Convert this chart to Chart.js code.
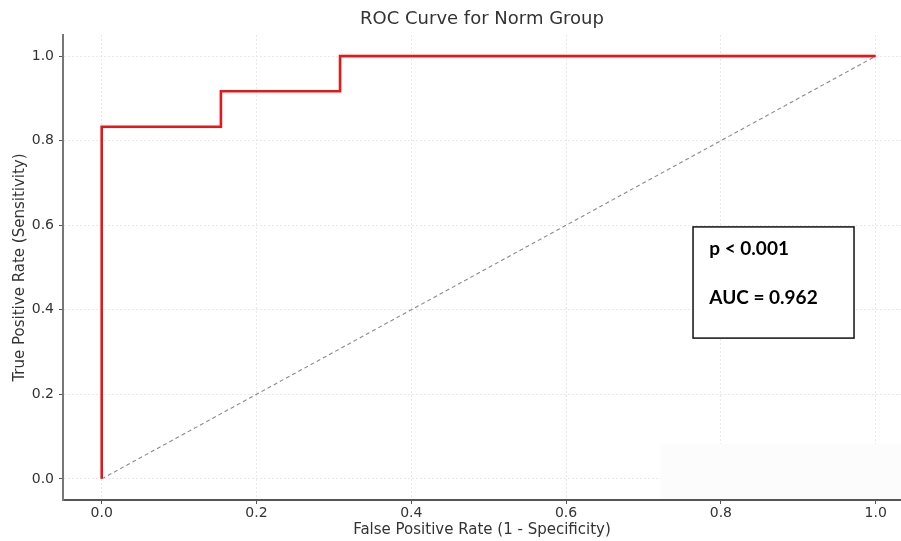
<!DOCTYPE html>
<html>
<head>
<meta charset="utf-8">
<title>ROC Curve for Norm Group</title>
<script src="https://cdn.jsdelivr.net/npm/chart.js@4.4.1/dist/chart.umd.min.js"></script>
<style>
    html, body { margin: 0; padding: 0; background: #fff; }
    #wrap { width: 901px; height: 541px; }
</style>
</head>
<body>
<div id="wrap"><canvas id="roc-chart" width="901" height="541"></canvas></div>
<script>
// ROC steps (false positive rate / true positive rate)
const rocFpr = [0, 0, 0.154, 0.154, 0.308, 0.308, 1.0];
const rocTpr = [0, 0.833, 0.833, 0.917, 0.917, 1.0, 1.0];

// chance line
const chanceFpr = [0, 1];
const chanceTpr = [0, 1];

const tickValues = [0, 0.2, 0.4, 0.6, 0.8, 1.0];
const statLines = ['p < 0.001', 'AUC = 0.962'];

const toPoints = (xs, ys) => xs.map((x, i) => ({ x: x, y: ys[i] }));

// Stats box + faint patch in the lower right corner
const annotationPlugin = {
    id: 'statsBox',
    beforeDatasetsDraw(chart) {
        const { ctx, scales: { x, y } } = chart;
        const left = x.getPixelForValue(0.722);
        const top = y.getPixelForValue(0.083);
        ctx.save();
        ctx.fillStyle = '#fcfcfc';
        ctx.fillRect(left, top, chart.chartArea.right - left, chart.chartArea.bottom - 1 - top);
        ctx.restore();
    },
    afterDatasetsDraw(chart) {
        const { ctx, scales: { x, y } } = chart;
        const bx1 = x.getPixelForValue(0.764);
        const bx2 = x.getPixelForValue(0.972);
        const by1 = y.getPixelForValue(0.596);
        const by2 = y.getPixelForValue(0.333);
        ctx.save();
        ctx.fillStyle = '#ffffff';
        ctx.fillRect(bx1, by1, bx2 - bx1, by2 - by1);
        ctx.strokeStyle = '#111';
        ctx.lineWidth = 1.5;
        ctx.strokeRect(bx1, by1, bx2 - bx1, by2 - by1);

        ctx.fillStyle = '#000';
        ctx.font = 'bold 19px Lato, "Open Sans", sans-serif';
        ctx.textBaseline = 'middle';
        ctx.textAlign = 'left';
        const tx = x.getPixelForValue(0.785);
        ctx.fillText(statLines[0], tx, y.getPixelForValue(0.544));
        ctx.fillText(statLines[1], tx, y.getPixelForValue(0.428));
        ctx.restore();
    }
};

const gridStyle = {
    color: '#e2e2e2',
    lineWidth: 0.8,
    drawTicks: true,
    tickLength: 4,
    tickColor: '#555',
    tickWidth: 1,
    tickBorderDash: []
};

const tickFont = { family: '"DejaVu Sans", sans-serif', size: 14 };
const labelFont = { family: '"DejaVu Sans", sans-serif', size: 15 };

new Chart(document.getElementById('roc-chart'), {
    type: 'line',
    data: {
        datasets: [
            {
                label: 'ROC',
                data: toPoints(rocFpr, rocTpr),
                borderColor: 'rgb(232, 22, 22)',
                borderWidth: 2.6,
                pointRadius: 0,
                fill: false,
                tension: 0,
                order: 1
            },
            {
                label: 'Chance',
                data: toPoints(chanceFpr, chanceTpr),
                borderColor: '#8a8a8a',
                borderWidth: 1.1,
                borderDash: [4, 3],
                pointRadius: 0,
                fill: false,
                order: 2
            }
        ]
    },
    options: {
        responsive: false,
        animation: false,
        layout: { padding: 0 },
        plugins: {
            legend: { display: false },
            tooltip: { enabled: false },
            title: {
                display: true,
                text: 'ROC Curve for Norm Group',
                fullSize: false,
                color: '#333',
                font: { family: '"DejaVu Sans", sans-serif', size: 18, weight: 'normal' },
                padding: { top: 9, bottom: 4.4 }
            }
        },
        scales: {
            x: {
                type: 'linear',
                min: -0.05,
                max: 1.0327,
                afterFit: scale => { scale.height = 41; },
                afterBuildTicks: scale => { scale.ticks = tickValues.map(v => ({ value: v })); },
                ticks: {
                    includeBounds: false,
                    color: '#333',
                    font: tickFont,
                    padding: 1,
                    maxRotation: 0,
                    callback: v => Number(v).toFixed(1)
                },
                grid: gridStyle,
                border: { display: true, color: '#555', width: 2, dash: [2, 2] },
                title: {
                    display: true,
                    text: 'False Positive Rate (1 - Specificity)',
                    color: '#333',
                    font: labelFont,
                    padding: { top: 0, bottom: 2 }
                }
            },
            y: {
                type: 'linear',
                min: -0.05,
                max: 1.05,
                afterFit: scale => { scale.width = 63; },
                afterBuildTicks: scale => { scale.ticks = tickValues.map(v => ({ value: v })); },
                ticks: {
                    includeBounds: false,
                    color: '#333',
                    font: tickFont,
                    padding: 5,
                    callback: v => Number(v).toFixed(1)
                },
                grid: gridStyle,
                border: { display: true, color: '#777', width: 2, dash: [2, 2] },
                title: {
                    display: true,
                    text: 'True Positive Rate (Sensitivity)',
                    color: '#333',
                    font: labelFont,
                    padding: { top: 11, bottom: 0 }
                }
            }
        }
    },
    plugins: [annotationPlugin]
});
</script>
</body>
</html>
